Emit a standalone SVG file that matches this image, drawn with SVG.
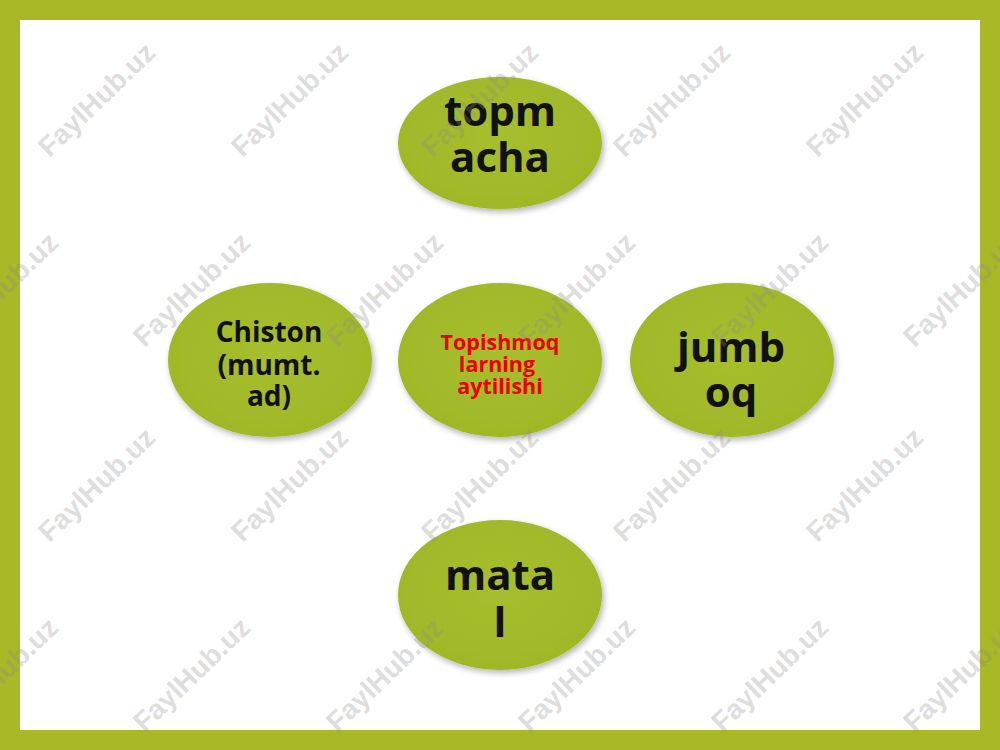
<svg xmlns="http://www.w3.org/2000/svg" width="1000" height="750" viewBox="0 0 1000 750">
<defs>
<radialGradient id="g" cx="0.5" cy="0.45" r="0.6">
<stop offset="0" stop-color="#a7be2e"/>
<stop offset="1" stop-color="#9fb727"/>
</radialGradient>
<filter id="sh" x="-20%" y="-20%" width="150%" height="150%">
<feGaussianBlur in="SourceAlpha" stdDeviation="3"/>
<feOffset dx="2" dy="3" result="b"/>
<feComponentTransfer><feFuncA type="linear" slope="0.3"/></feComponentTransfer>
<feMerge><feMergeNode/><feMergeNode in="SourceGraphic"/></feMerge>
</filter>
</defs>
<style>
.n{fill:url(#g);filter:url(#sh)}
.big{font-family:"Open Sans","Noto Sans",sans-serif;font-weight:bold;font-size:42px;fill:#111;text-anchor:middle}
.mid{font-family:"Open Sans","Noto Sans",sans-serif;font-weight:bold;font-size:28px;fill:#111;text-anchor:middle}
.red{font-family:"Open Sans","Noto Sans",sans-serif;font-weight:bold;font-size:21.5px;fill:#ee0000;text-anchor:middle}
.wm{font-family:"Liberation Sans",Arial,sans-serif;font-weight:bold;font-size:28px;fill:#8a8a8a;fill-opacity:0.3;text-anchor:middle}
</style>
<rect x="0" y="0" width="1000" height="750" fill="#a8b826"/>
<rect x="20" y="20" width="960" height="710" fill="#ffffff"/>
<g id="connectors"></g>
<g id="node-top"><ellipse class="n" cx="500" cy="143" rx="102" ry="66"/><text class="big" x="500" y="126">topm</text><text class="big" x="500" y="172">acha</text></g>
<g id="node-left"><ellipse class="n" cx="270" cy="360" rx="102" ry="77"/><text class="mid" x="269" y="342">Chiston</text><text class="mid" x="269" y="375">(mumt.</text><text class="mid" x="269" y="406">ad)</text></g>
<g id="node-center"><ellipse class="n" cx="500" cy="360" rx="102" ry="77"/><text class="red" x="500" y="350">Topishmoq</text><text class="red" x="497" y="372">larning</text><text class="red" x="500" y="394">aytilishi</text></g>
<g id="node-right"><ellipse class="n" cx="732" cy="360" rx="102" ry="77"/><text class="big" x="731" y="362">jumb</text><text class="big" x="731" y="407">oq</text></g>
<g id="node-bottom"><ellipse class="n" cx="500" cy="595" rx="102" ry="75"/><text class="big" x="500" y="590">mata</text><text class="big" x="500" y="637">l</text></g>
<g id="watermarks">
<text class="wm" transform="translate(97,100) rotate(-44)" y="9">FaylHub.uz</text>
<text class="wm" transform="translate(290,100) rotate(-44)" y="9">FaylHub.uz</text>
<text class="wm" transform="translate(480,100) rotate(-44)" y="9">FaylHub.uz</text>
<text class="wm" transform="translate(672,100) rotate(-44)" y="9">FaylHub.uz</text>
<text class="wm" transform="translate(865,100) rotate(-44)" y="9">FaylHub.uz</text>
<text class="wm" transform="translate(0,290) rotate(-44)" y="9">FaylHub.uz</text>
<text class="wm" transform="translate(192,290) rotate(-44)" y="9">FaylHub.uz</text>
<text class="wm" transform="translate(385,290) rotate(-44)" y="9">FaylHub.uz</text>
<text class="wm" transform="translate(577,290) rotate(-44)" y="9">FaylHub.uz</text>
<text class="wm" transform="translate(770,290) rotate(-44)" y="9">FaylHub.uz</text>
<text class="wm" transform="translate(962,290) rotate(-44)" y="9">FaylHub.uz</text>
<text class="wm" transform="translate(97,485) rotate(-44)" y="9">FaylHub.uz</text>
<text class="wm" transform="translate(290,485) rotate(-44)" y="9">FaylHub.uz</text>
<text class="wm" transform="translate(480,485) rotate(-44)" y="9">FaylHub.uz</text>
<text class="wm" transform="translate(672,485) rotate(-44)" y="9">FaylHub.uz</text>
<text class="wm" transform="translate(865,485) rotate(-44)" y="9">FaylHub.uz</text>
<text class="wm" transform="translate(0,675) rotate(-44)" y="9">FaylHub.uz</text>
<text class="wm" transform="translate(192,675) rotate(-44)" y="9">FaylHub.uz</text>
<text class="wm" transform="translate(385,675) rotate(-44)" y="9">FaylHub.uz</text>
<text class="wm" transform="translate(577,675) rotate(-44)" y="9">FaylHub.uz</text>
<text class="wm" transform="translate(770,675) rotate(-44)" y="9">FaylHub.uz</text>
<text class="wm" transform="translate(962,675) rotate(-44)" y="9">FaylHub.uz</text>
</g>
</svg>
